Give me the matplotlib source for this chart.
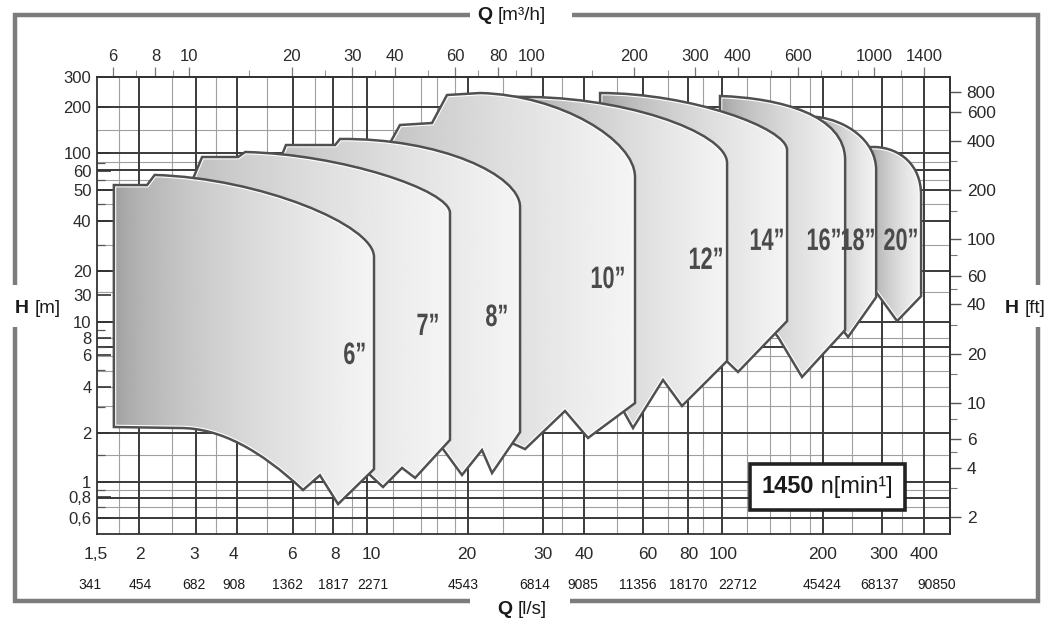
import numpy as np
import matplotlib
matplotlib.use("Agg")
import matplotlib.pyplot as plt
from matplotlib.path import Path
from matplotlib.patches import PathPatch
from matplotlib.lines import Line2D
from matplotlib.ticker import NullFormatter
from matplotlib.offsetbox import TextArea, HPacker, AnchoredOffsetbox
from matplotlib.patheffects import AbstractPathEffect
from matplotlib.transforms import Affine2D

plt.rcParams['font.family'] = ['Liberation Sans', 'DejaVu Sans']

# ---------------------------------------------------------------- ranges
q_range = (1.5, 463.0)      # flow, l/s
h_range = (0.481, 300.0)    # head, m

# ---------------------------------------------------------------- envelopes
# vertices in (Q [l/s], H [m]); code letters: M move, L line, C cubic bezier
env_6_q = [1.68, 1.68, 2.10, 2.21, 4.49, 9.65, 9.65, 9.65, 7.58, 6.71, 5.99, 4.49, 3.43, 2.62]
env_6_h = [2.17, 65.5, 65.5, 75.5, 72.3, 37.3, 23.8, 1.20, 0.733, 1.10, 0.894, 1.57, 2.14, 2.14]
env_6_codes = "MLLLCCCLLLLCCC"

env_7_q = [1.81, 1.81, 2.77, 3.04, 3.87, 4.06, 7.68, 16.08, 16.08, 16.08, 12.72, 11.65, 10.25, 9.08, 4.49]
env_7_h = [2.39, 61.1, 61.1, 97.2, 97.2, 104.3, 101.4, 61.1, 44.2, 1.81, 1.06, 1.22, 0.932, 1.18, 2.08]
env_7_codes = "MLLLLLCCCLLLLLL"

env_8_q = [3.20, 3.20, 5.06, 5.34, 7.43, 7.68, 15.04, 25.75, 25.75, 25.75, 21.33, 19.94, 17.43, 15.04, 5.87]
env_8_h = [2.57, 86.9, 86.9, 115.1, 115.1, 125.3, 127.1, 75.5, 48.1, 2.02, 1.135, 1.569, 1.104, 1.684, 2.232]
env_8_codes = "MLLLLLCCCLLLLLL"

env_10_q = [6.28, 6.28, 10.39, 11.49, 14.25, 15.76, 19.67, 33.69, 55.75, 55.75, 55.75, 40.66, 34.83, 26.63, 23.28, 11.49]
env_10_h = [2.39, 104.3, 104.3, 152.6, 156.9, 232.8, 239.4, 232.8, 123.5, 73.3, 3.04, 1.86, 2.72, 1.59, 1.81, 2.23]
env_10_codes = "MLLLLLLCCCLLLLLL"

env_12_q = [24.07, 24.07, 50.41, 103.5, 103.5, 103.5, 76.46, 67.3, 55.01, 50.41]
env_12_h = [3.17, 226.2, 236.1, 138.2, 89.3, 5.50, 2.92, 4.21, 2.14, 2.96]
env_12_codes = "MLCCCLLLLL"

env_14_q = [44.09, 44.09, 80.7, 154.9, 154.9, 154.9, 111.4, 95.5]
env_14_h = [3.41, 239.4, 239.4, 146.3, 107.3, 9.65, 4.71, 6.42]
env_14_codes = "MLCCCLLL"

env_16_q = [98.7, 98.7, 147.8, 228.8, 228.8, 228.8, 171.3, 145.8, 129.2]
env_16_h = [10.5, 229.5, 223.2, 175.7, 93.2, 8.51, 4.39, 7.71, 10.5]
env_16_codes = "MLCCCLLLL"

env_18_q = [189.5, 189.5, 228.8, 281.8, 281.8, 281.8, 233.4, 213.8]
env_18_h = [9.79, 170.8, 163.7, 123.5, 81.0, 13.5, 7.71, 9.79]
env_18_codes = "MLCCCLLL"

env_20_q = [270.5, 270.5, 279.9, 331.1, 381.2, 381.2, 381.2, 324.5, 281.8]
env_20_h = [16.0, 111.9, 111.9, 110.4, 86.9, 56.9, 13.7, 9.65, 14.5]
env_20_codes = "MLLCCCLLL"

size_labels = ['6”', '7”', '8”', '10”', '12”', '14”', '16”', '18”', '20”']
label_q = [8.49, 13.88, 22.06, 46.5, 89.9, 135.4, 198.6, 249.6, 333.4]
label_h = [5.90, 8.87, 10.07, 17.2, 22.5, 29.4, 29.4, 29.4, 29.4]

# ---------------------------------------------------------------- scales
h_tick_pos = [300, 197, 103, 80, 61, 39.6, 19.6, 13.9, 9.56, 7.57, 5.98, 3.83, 2.0, 1.0, 0.81, 0.60]
h_tick_labels = ['300', '200', '100', '60', '50', '40', '20', '30', '10', '8', '6', '4', '2', '1', '0,8', '0,6']
h_minor_pos = [89.3, 70.3, 50.1, 28.2, 8.5, 6.69, 4.84, 2.88, 1.46, 0.89, 0.70]

ft_major = [800, 600, 400, 200, 100, 60, 40, 20, 10, 6, 4, 2]
ft_minor = [300, 150, 80, 50, 30, 15, 8, 5, 3]

m3h_major = [6, 8, 10, 20, 30, 40, 60, 80, 100, 200, 300, 400, 600, 1000, 1400]
m3h_minor = [7, 9, 15, 25, 35, 50, 70, 90, 150, 250, 350, 500, 700, 800, 900, 1200]

ls_label_pos = [1.49, 2.00, 2.88, 3.74, 5.56, 7.43, 9.46, 18.0, 30.0, 39.6, 60.9, 80.2, 101, 197, 297, 389]
ls_labels = ['1,5', '2', '3', '4', '6', '8', '10', '20', '30', '40', '60', '80', '100', '200', '300', '400']
gpm_pos = [1.43, 2.00, 2.88, 3.77, 5.41, 7.32, 9.59, 17.6, 28.5, 39.3, 56.9, 79.6, 111, 196, 289, 424]
gpm_labels = ['341', '454', '682', '908', '1362', '1817', '2271', '4543', '6814', '9085',
              '11356', '18170', '22712', '45424', '68137', '90850']

grid_q_major = [1.99, 2.92, 3.84, 5.60, 7.32, 9.21, 18.2, 30.0, 39.6, 58.9, 79.6, 100, 197, 293, 389]
grid_q_minor = [1.74, 2.48, 3.34, 4.70, 6.49, 8.33, 11.0, 13.2, 14.7, 16.6, 23.0, 34.2, 49.4,
                69.6, 88.1, 118, 138, 158, 181, 240, 336]
grid_h_major = [197, 103, 81, 61, 39.5, 19.5, 9.5, 6.7, 2.0, 1.0, 0.8, 0.6]
grid_h_minor = [142, 90.6, 70.3, 50, 28, 14.5, 7.6, 5.9, 4.8, 3.8, 2.9, 1.46, 0.89, 0.70]

speed_value = "1450"
speed_unit = " n[min¹]"


class NarrowGlyphs(AbstractPathEffect):
    """Squeeze rendered glyphs horizontally about their own centre."""

    def __init__(self, factor):
        super().__init__()
        self.factor = factor

    def draw_path(self, renderer, gc, tpath, affine, rgbFace=None):
        ext = tpath.get_extents()
        cx, cy = affine.transform(((ext.x0 + ext.x1) / 2, (ext.y0 + ext.y1) / 2))
        squeeze = Affine2D().translate(-cx, -cy).scale(self.factor, 1.0).translate(cx, cy)
        renderer.draw_path(gc, tpath, affine + squeeze, rgbFace)


# ---------------------------------------------------------------- figure
W, H = 1049, 618
fig = plt.figure(figsize=(W / 100, H / 100), dpi=100)
fig.patch.set_facecolor('white')


def fpos(x, y):
    return x / W, 1 - y / H


ax = fig.add_axes([97 / W, 1 - 534 / H, (950 - 97) / W, (534 - 77) / H])
ax.set_xscale('log')
ax.set_yscale('log')
ax.set_xlim(*q_range)
ax.set_ylim(*h_range)
ax.set_facecolor('white')

dark = '#333333'
for s in ax.spines.values():
    s.set_color(dark)
    s.set_linewidth(1.3)

# grid
for q in grid_q_minor:
    ax.axvline(q, color='#a0a0a0', lw=0.8, zorder=1)
for h in grid_h_minor:
    ax.axhline(h, color='#a0a0a0', lw=0.8, zorder=1)
for q in grid_q_major:
    ax.axvline(q, color='#3a3a3a', lw=1.4, zorder=1.2)
for h in grid_h_major:
    ax.axhline(h, color='#3a3a3a', lw=1.4, zorder=1.2)

# bottom axis: labels drawn as text rows
ax.tick_params(axis='x', which='both', bottom=False, labelbottom=False)
xt = ax.get_xaxis_transform()
for q, s in zip(ls_label_pos, ls_labels):
    ax.text(q, -0.044, s, transform=xt, ha='center', va='center', fontsize=12.5,
            color='#2a2a2a', clip_on=False)
for q, s in zip(gpm_pos, gpm_labels):
    ax.text(q, -0.112, s, transform=xt, ha='center', va='center', fontsize=10,
            color='#1a1a1a', clip_on=False)

# left axis (m)
ax.set_yticks(h_tick_pos, h_tick_labels)
ax.set_yticks(h_minor_pos, minor=True)
ax.yaxis.set_minor_formatter(NullFormatter())
ax.tick_params(axis='y', which='major', direction='in', length=10, width=1.2,
               color=dark, labelsize=12, labelcolor='#2a2a2a', pad=4)
ax.tick_params(axis='y', which='minor', direction='in', length=6, width=0.9, color='#555555')

# right axis (ft)
secy = ax.secondary_yaxis('right', functions=(lambda m: m * 3.281, lambda f: f / 3.281))
secy.set_yticks(ft_major, [str(v) for v in ft_major])
secy.set_yticks(ft_minor, minor=True)
secy.yaxis.set_minor_formatter(NullFormatter())
secy.tick_params(which='major', direction='out', length=8, width=1.0, color='#555555',
                 labelsize=12.5, labelcolor='#2a2a2a', pad=4)
secy.tick_params(which='minor', direction='out', length=5, width=0.8, color='#777777')
secy.spines['right'].set_color(dark)
secy.spines['right'].set_linewidth(1.3)

# top axis (m3/h)
secx = ax.secondary_xaxis('top', functions=(lambda q: q * 3.6, lambda m: m / 3.6))
secx.set_xticks(m3h_major, [str(v) for v in m3h_major])
secx.set_xticks(m3h_minor, minor=True)
secx.xaxis.set_minor_formatter(NullFormatter())
secx.tick_params(which='major', direction='out', length=7, width=0.9, color='#777777',
                 labelsize=12, labelcolor='#2a2a2a', pad=2)
secx.tick_params(which='minor', direction='out', length=5, width=0.8, color='#999999')
secx.spines['top'].set_color(dark)
secx.spines['top'].set_linewidth(1.3)

# ---------------------------------------------------------------- envelopes
code_map = {'M': Path.MOVETO, 'L': Path.LINETO, 'C': Path.CURVE4}
envelopes = [
    (env_20_q, env_20_h, env_20_codes),
    (env_18_q, env_18_h, env_18_codes),
    (env_16_q, env_16_h, env_16_codes),
    (env_14_q, env_14_h, env_14_codes),
    (env_12_q, env_12_h, env_12_codes),
    (env_10_q, env_10_h, env_10_codes),
    (env_8_q, env_8_h, env_8_codes),
    (env_7_q, env_7_h, env_7_codes),
    (env_6_q, env_6_h, env_6_codes),
]

to_axes = ax.transData + ax.transAxes.inverted()
t = np.linspace(0, 1, 300)
shade = np.clip(0.60 + 0.36 * t ** 0.55, 0, 1)
shade_img = np.tile(shade, (2, 1))

for i, (qs, hs, codes) in enumerate(envelopes):
    verts = list(zip(qs, hs)) + [(qs[0], hs[0])]
    cds = [code_map[c] for c in codes] + [Path.CLOSEPOLY]
    path = Path(verts, cds)
    z = 3 + i * 0.1

    clip = PathPatch(path, facecolor='none', edgecolor='none', zorder=z)
    ax.add_patch(clip)

    pts = to_axes.transform(np.column_stack([qs, hs]))
    x0, x1 = pts[:, 0].min(), pts[:, 0].max()
    y0, y1 = pts[:, 1].min(), pts[:, 1].max()
    im = ax.imshow(shade_img, cmap='gray', vmin=0, vmax=1, aspect='auto',
                   extent=[x0, x1, y0, y1], transform=ax.transAxes,
                   interpolation='bilinear', zorder=z)
    im.set_clip_path(clip)

    glow = PathPatch(path, facecolor='none', edgecolor='white', lw=3.4, zorder=z + 0.01)
    ax.add_patch(glow)
    glow.set_clip_path(clip)

    edge = PathPatch(path, facecolor='none', edgecolor='#505050', lw=1.8,
                     joinstyle='miter', zorder=z + 0.02)
    ax.add_patch(edge)

ax.set_xlim(*q_range)
ax.set_ylim(*h_range)

# size labels in a narrowed bold face
for s, q, h in zip(size_labels, label_q, label_h):
    ax.text(q, h, s, ha='center', va='center', fontsize=22.3, fontweight='bold',
            color='#4a4a4a', zorder=10, path_effects=[NarrowGlyphs(0.70)])

# speed box
ta1 = TextArea(speed_value, textprops=dict(fontsize=17, fontweight='bold', color='#1a1a1a'))
ta2 = TextArea(speed_unit, textprops=dict(fontsize=17, color='#1a1a1a'))
pack = HPacker(children=[ta1, ta2], align='baseline', pad=0, sep=0)
anch = AnchoredOffsetbox(loc='center', child=pack, pad=0.5, frameon=True,
                         bbox_to_anchor=(0.856, 0.103), bbox_transform=ax.transAxes,
                         borderpad=0, prop=dict(size=17))
anch.patch.set_linewidth(2.6)
anch.patch.set_edgecolor('#222222')
anch.patch.set_facecolor('white')
anch.set_zorder(12)
ax.add_artist(anch)

# ---------------------------------------------------------------- outer frame
frame_kw = dict(transform=fig.transFigure, color='#7c7c7c', lw=3.2,
                solid_joinstyle='miter', solid_capstyle='butt')
for seg in ([(470, 15), (15, 15), (15, 285)],
            [(15, 327), (15, 601), (470, 601)],
            [(570, 601), (1038, 601), (1038, 327)],
            [(1038, 285), (1038, 15), (572, 15)]):
    xs, ys = zip(*[fpos(x, y) for x, y in seg])
    fig.add_artist(Line2D(xs, ys, **frame_kw))


def axis_title(x, y, head, unit):
    t1 = fig.text(*fpos(x, y), head, ha='left', va='center', fontsize=14,
                  fontweight='bold', color='#1a1a1a')
    ann = plt.annotate(unit, xy=(1, 0.5), xycoords=t1, xytext=(4, 0),
                       textcoords='offset points', ha='left', va='center',
                       fontsize=13.5, color='#1a1a1a', annotation_clip=False)
    return t1, ann


axis_title(477, 15, 'Q', '[m³/h]')
axis_title(497, 610, 'Q', '[l/s]')
axis_title(15, 308, 'H', '[m]')
axis_title(1005, 308, 'H', '[ft]')

fig.savefig('out.png', dpi=100, facecolor='white')
